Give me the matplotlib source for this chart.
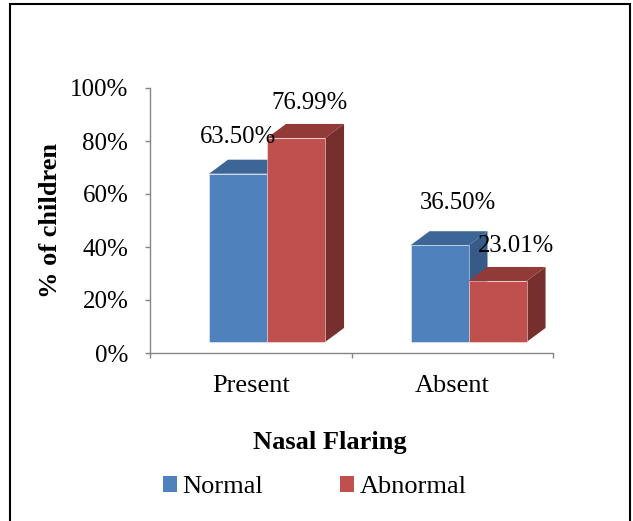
import matplotlib
matplotlib.use("Agg")
import matplotlib.pyplot as plt
from matplotlib.patches import Polygon, Rectangle, Patch
from matplotlib.ticker import PercentFormatter

# --- data ---------------------------------------------------------------
categories = ["Present", "Absent"]
series_names = ["Normal", "Abnormal"]
normal = [63.50, 36.50]
abnormal = [76.99, 23.01]
y_ticks = [0, 20, 40, 60, 80, 100]

# --- styling ------------------------------------------------------------
plt.rcParams["font.family"] = ["Liberation Serif", "DejaVu Serif"]
front_colors = ["#4F81BD", "#C0504D"]
top_colors = ["#3D6596", "#913A38"]
side_colors = ["#375A86", "#772F2D"]
axis_gray = "#868686"

# pseudo-3D geometry (data units)
bar_start = [0.293, 0.581]   # left edge of each series inside a category
bar_width = 0.288
depth_dx = 0.094
depth_dy = 5.3
floor = 4.15

# label nudges in pixels relative to the front-face centre / back top edge
label_nudge = [[(0, 23), (13.5, 20.5)], [(18.5, 28), (18.5, 21)]]

fig = plt.figure(figsize=(6.33, 5.21), dpi=100)
ax = fig.add_axes([150 / 633, (521 - 353) / 521, 403 / 633, 265 / 521])

values = [normal, abnormal]
for i, cat in enumerate(categories):
    for s in range(len(series_names)):
        v = values[s][i]
        x0 = i + bar_start[s]
        x1 = x0 + bar_width
        y0 = floor
        y1 = floor + v
        side = Polygon([(x1, y0), (x1 + depth_dx, y0 + depth_dy),
                        (x1 + depth_dx, y1 + depth_dy), (x1, y1)],
                       closed=True, facecolor=side_colors[s], edgecolor="none",
                       clip_on=False)
        top = Polygon([(x0, y1), (x1, y1), (x1 + depth_dx, y1 + depth_dy),
                       (x0 + depth_dx, y1 + depth_dy)],
                      closed=True, facecolor=top_colors[s], edgecolor="none",
                      clip_on=False)
        front = Rectangle((x0, y0), bar_width, v, facecolor=front_colors[s],
                          edgecolor=(1, 1, 1, 0.45), linewidth=0.7, clip_on=False)
        ax.add_patch(side)
        ax.add_patch(top)
        ax.add_patch(front)

        nx, ny = label_nudge[i][s]
        ax.annotate(f"{v:.2f}%", xy=((x0 + x1) / 2, y1 + depth_dy),
                    xytext=(nx * 72 / 100, ny * 72 / 100),
                    textcoords="offset points", ha="center", va="center",
                    fontsize=17.8, color="black", annotation_clip=False)

ax.set_xlim(0, len(categories))
ax.set_ylim(0, 100)

for sp in ["top", "right"]:
    ax.spines[sp].set_visible(False)
for sp in ["left", "bottom"]:
    ax.spines[sp].set_color(axis_gray)
    ax.spines[sp].set_linewidth(1.0)

ax.set_yticks(y_ticks)
ax.yaxis.set_major_formatter(PercentFormatter(decimals=0))
ax.tick_params(axis="y", direction="out", length=3.6, width=1.0, color=axis_gray,
               labelsize=18, pad=12)

ax.set_xticks(range(len(categories) + 1))
ax.set_xticklabels([])
ax.tick_params(axis="x", which="major", direction="out", length=3.6, width=1.0,
               color=axis_gray)
ax.set_xticks([i + 0.5 for i in range(len(categories))], labels=categories, minor=True)
ax.tick_params(axis="x", which="minor", length=0, labelsize=19, pad=16)

ax.set_ylabel("% of children", fontsize=19, fontweight="bold")
ax.yaxis.set_label_coords(-0.218, 0.5)

fig.text(330 / 633, 1 - 449 / 521, "Nasal Flaring", ha="center", va="baseline",
         fontsize=19, fontweight="bold")

handles = [Patch(facecolor=c, edgecolor="none") for c in front_colors]
fig.legend(handles, series_names, ncol=2, loc="center",
           bbox_to_anchor=(314.5 / 633, 1 - 487 / 521), frameon=False,
           fontsize=19, handlelength=0.55, handleheight=0.55,
           handletextpad=0.2, columnspacing=2.9, borderpad=0, borderaxespad=0)

# outer chart frame (runs off the bottom edge)
fig.patches.append(Rectangle((10 / 633, -0.05), 620 / 633, 1 - 4 / 521 + 0.05,
                             transform=fig.transFigure, fill=False,
                             edgecolor="black", linewidth=1.5))

fig.savefig("out.png", dpi=100)
